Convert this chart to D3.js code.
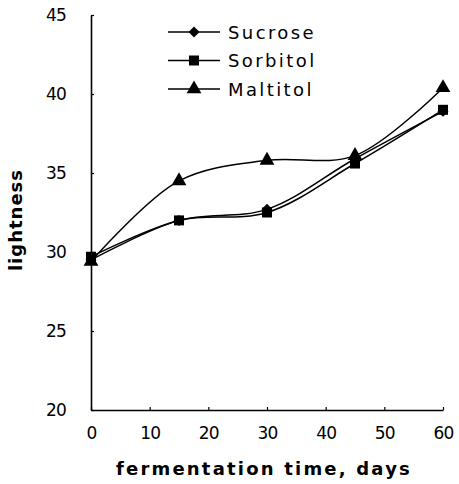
<!DOCTYPE html>
<html>
<head>
<meta charset="utf-8">
<script src="https://cdn.jsdelivr.net/npm/d3@7"></script>
<style>
  body { margin: 0; background: #fff; }
  svg { display: block; }
  text { font-family: "DejaVu Sans", "Liberation Sans", Arial, sans-serif; fill: #000; }
</style>
</head>
<body>
<svg id="canvas"></svg>
<script>
let days = [0, 15, 30, 45, 60];
let sucrose = [29.5, 32.0, 32.7, 35.9, 38.9];
let sorbitol = [29.7, 32.0, 32.5, 35.6, 39.0];
let maltitol = [29.4, 34.5, 35.8, 36.1, 40.4];
let seriesNames = ["Sucrose", "Sorbitol", "Maltitol"];
let xTicks = [0, 10, 20, 30, 40, 50, 60];
let yTicks = [20, 25, 30, 35, 40, 45];

let width = 459;
let height = 484;

let canvas = d3.select("#canvas")
canvas.attr("width", width)
canvas.attr("height", height)

let xScale = d3.scaleLinear()
               .domain([0, 60])
               .range([91, 443])

let yScale = d3.scaleLinear()
               .domain([20, 45])
               .range([410, 15])

// square turned 45deg, wider than d3.symbolDiamond
let wideDiamond = {
    draw: (ctx, size) => {
        let r = Math.sqrt(size / 2)
        ctx.moveTo(0, -r)
        ctx.lineTo(r, 0)
        ctx.lineTo(0, r)
        ctx.lineTo(-r, 0)
        ctx.closePath()
    }
}

let series = [
    {name: seriesNames[0], values: sucrose, symbol: wideDiamond, size: 60},
    {name: seriesNames[1], values: sorbitol, symbol: d3.symbolSquare, size: 100},
    {name: seriesNames[2], values: maltitol, symbol: d3.symbolTriangle, size: 95}
]

let drawAxes = () => {
    let xAxis = d3.axisBottom(xScale)
                  .tickValues(xTicks)
                  .tickSizeInner(-3)
                  .tickSizeOuter(0)
                  .tickPadding(17)
    let yAxis = d3.axisLeft(yScale)
                  .tickValues(yTicks)
                  .tickSizeInner(-3)
                  .tickSizeOuter(0)
                  .tickPadding(25)

    canvas.append("g")
          .attr("transform", "translate(0," + yScale(20) + ")")
          .call(xAxis)
    canvas.append("g")
          .attr("transform", "translate(" + xScale(0) + ",0)")
          .call(yAxis)

    canvas.selectAll(".domain").attr("stroke", "#000").attr("stroke-width", 1.6)
    canvas.selectAll(".tick line").attr("stroke", "#000").attr("stroke-width", 1.2)
    canvas.selectAll(".tick text")
          .attr("font-family", null)
          .style("font-size", "17px")
          .style("letter-spacing", "-0.8px")
          .attr("fill", "#000")

    canvas.append("text")
          .attr("x", 264)
          .attr("y", 475)
          .attr("text-anchor", "middle")
          .style("font-size", "18px")
          .style("font-weight", "bold")
          .style("letter-spacing", "2.2px")
          .text("fermentation time, days")

    canvas.append("text")
          .attr("transform", "translate(22,220) rotate(-90)")
          .attr("text-anchor", "middle")
          .style("font-size", "18px")
          .style("font-weight", "bold")
          .style("letter-spacing", "1px")
          .text("lightness")
}

let drawLines = () => {
    let line = d3.line()
                 .x((d, i) => xScale(days[i]))
                 .y((d) => yScale(d))
                 .curve(d3.curveCatmullRom.alpha(0.5))

    series.forEach((s) => {
        canvas.append("path")
              .datum(s.values)
              .attr("d", line)
              .attr("fill", "none")
              .attr("stroke", "#000")
              .attr("stroke-width", 1.5)

        canvas.selectAll(null)
              .data(s.values)
              .enter()
              .append("path")
              .attr("d", d3.symbol().type(s.symbol).size(s.size))
              .attr("transform", (d, i) => "translate(" + xScale(days[i]) + "," + yScale(d) + ")")
              .attr("fill", "#000")
    })
}

let drawLegend = () => {
    let legend = canvas.append("g")
    series.forEach((s, i) => {
        let y = 32 + i * 28.5
        legend.append("line")
              .attr("x1", 168).attr("x2", 220)
              .attr("y1", y).attr("y2", y)
              .attr("stroke", "#000")
              .attr("stroke-width", 1.5)
        legend.append("path")
              .attr("d", d3.symbol().type(s.symbol).size(s.size))
              .attr("transform", "translate(194," + y + ")")
              .attr("fill", "#000")
        legend.append("text")
              .attr("x", 228)
              .attr("y", y + 6.5)
              .style("font-size", "18px")
              .style("letter-spacing", "2.4px")
              .text(s.name)
    })
}

drawAxes();
drawLines();
drawLegend();
</script>
</body>
</html>
